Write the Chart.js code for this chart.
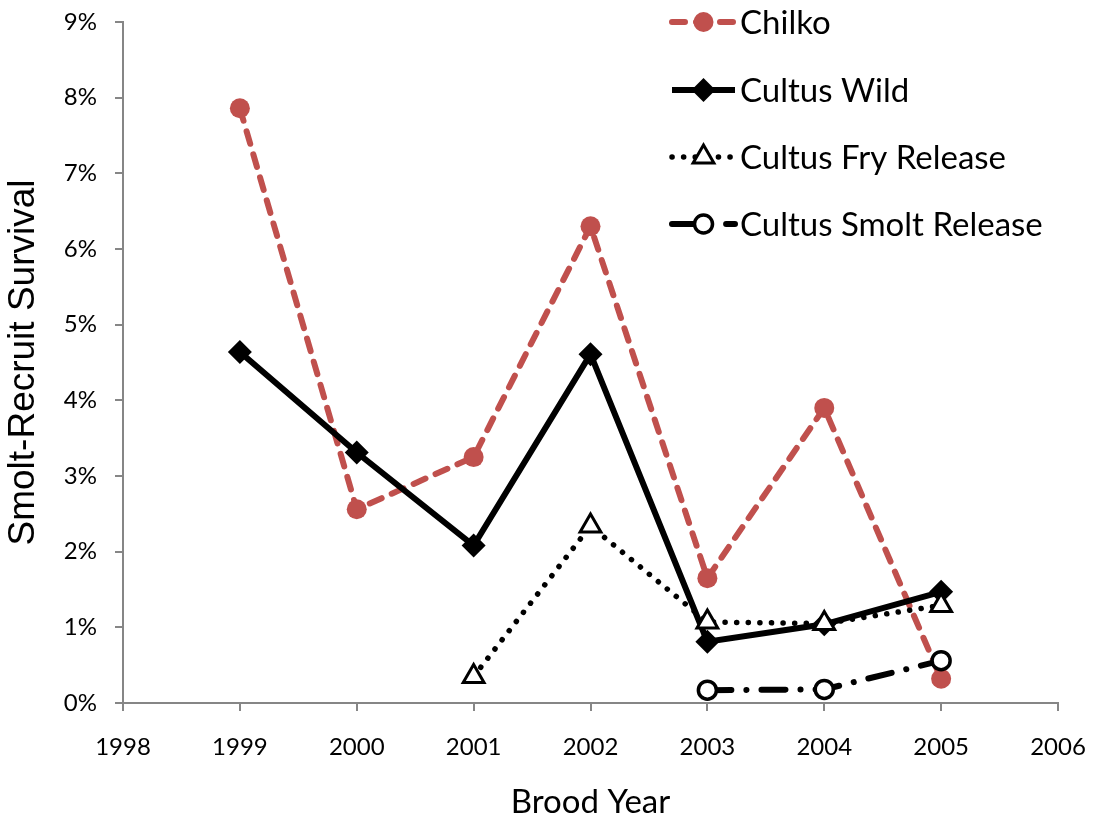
<!DOCTYPE html>
<html>
<head>
<meta charset="utf-8">
<script src="https://cdn.jsdelivr.net/npm/chart.js@4/dist/chart.umd.min.js"></script>
<style>
  html, body { margin: 0; padding: 0; background: #fff; }
  #wrap { width: 1094px; height: 822px; position: relative; }
</style>
</head>
<body>
<div id="wrap"><canvas id="c"></canvas></div>
<script>
// ---- Data (survival in %) ----
const broodYears = [1999, 2000, 2001, 2002, 2003, 2004, 2005];
const chilko      = [7.86, 2.56, 3.25, 6.30, 1.65, 3.90, 0.32];
const cultusWild  = [4.64, 3.31, 2.08, 4.61, 0.81, 1.04, 1.47];
const fryYears    = [2001, 2002, 2003, 2004, 2005];
const cultusFry   = [0.35, 2.34, 1.07, 1.05, 1.29];
const smoltYears  = [2003, 2004, 2005];
const cultusSmolt = [0.17, 0.18, 0.56];
const seriesNames = ['Chilko', 'Cultus Wild', 'Cultus Fry Release', 'Cultus Smolt Release'];
const xTickMin = 1998, xTickMax = 2006;
const yTickMin = 0, yTickMax = 9;

const pts = (xs, ys) => xs.map((x, i) => ({ x: x, y: ys[i] }));
const RED = '#C0504D';
const AXIS = '#868686';
const CAL = 'Lato, "Open Sans", sans-serif';

const datasets = [
  {
    label: seriesNames[0], data: pts(broodYears, chilko),
    borderColor: RED, backgroundColor: RED, borderWidth: 6,
    borderDash: [13, 11], borderCapStyle: 'round',
    pointStyle: 'circle', pointRadius: 10, pointBackgroundColor: RED,
    pointBorderColor: RED, pointBorderWidth: 0, order: 4
  },
  {
    label: seriesNames[1], data: pts(broodYears, cultusWild),
    borderColor: '#000', backgroundColor: '#000', borderWidth: 6,
    pointStyle: 'rectRot', pointRadius: 12, pointBackgroundColor: '#000',
    pointBorderColor: '#000', pointBorderWidth: 0, order: 3
  },
  {
    label: seriesNames[2], data: pts(fryYears, cultusFry),
    borderColor: '#000', backgroundColor: '#fff', borderWidth: 5.5,
    borderDash: [0.1, 11.5], borderCapStyle: 'round',
    pointStyle: 'triangle', pointRadius: 12, pointBackgroundColor: '#fff',
    pointBorderColor: '#000', pointBorderWidth: 3, order: 2
  },
  {
    label: seriesNames[3], data: pts(smoltYears, cultusSmolt),
    borderColor: '#000', backgroundColor: '#fff', borderWidth: 6,
    borderDash: [24, 15, 0.1, 15], borderCapStyle: 'round',
    pointStyle: 'circle', pointRadius: 9, pointBackgroundColor: '#fff',
    pointBorderColor: '#000', pointBorderWidth: 3.5, order: 1
  }
];

function drawMarker(ctx, ds, x, y) {
  ctx.save();
  ctx.setLineDash([]);
  ctx.fillStyle = ds.pointBackgroundColor;
  ctx.strokeStyle = ds.pointBorderColor;
  ctx.lineWidth = ds.pointBorderWidth;
  const r = ds.pointRadius;
  ctx.beginPath();
  if (ds.pointStyle === 'circle') {
    ctx.arc(x, y, r, 0, Math.PI * 2);
  } else if (ds.pointStyle === 'rectRot') {
    ctx.moveTo(x, y - r); ctx.lineTo(x + r, y); ctx.lineTo(x, y + r); ctx.lineTo(x - r, y); ctx.closePath();
  } else if (ds.pointStyle === 'triangle') {
    const h = r * 1.5, s = r * Math.sqrt(3);
    ctx.moveTo(x, y - r); ctx.lineTo(x + s / 2, y + h - r); ctx.lineTo(x - s / 2, y + h - r); ctx.closePath();
  }
  ctx.fill();
  if (ds.pointBorderWidth > 0) ctx.stroke();
  ctx.restore();
}

const legendPlugin = {
  id: 'customLegend',
  afterDraw(chart) {
    const ctx = chart.ctx;
    const x0 = 672, x1 = 735, tx = 740;
    const ys = [22, 90, 157, 224];
    chart.data.datasets.forEach((ds, i) => {
      const y = ys[i];
      ctx.save();
      ctx.strokeStyle = ds.borderColor;
      ctx.lineWidth = ds.borderWidth;
      ctx.lineCap = ds.borderCapStyle || 'butt';
      ctx.setLineDash(ds.borderDash || []);
      ctx.beginPath(); ctx.moveTo(x0, y); ctx.lineTo(x1, y); ctx.stroke();
      ctx.restore();
      drawMarker(ctx, ds, (x0 + x1) / 2, y);
      ctx.save();
      ctx.fillStyle = '#000';
      ctx.font = '33px ' + CAL;
      ctx.textBaseline = 'middle';
      ctx.textAlign = 'left';
      ctx.fillText(ds.label, tx, y + 1);
      ctx.restore();
    });
  }
};

new Chart(document.getElementById('c'), {
  type: 'line',
  data: { datasets: datasets },
  plugins: [legendPlugin],
  options: {
    responsive: true,
    maintainAspectRatio: false,
    animation: false,
    clip: false,
    layout: { padding: { left: 0, right: 36, top: 22, bottom: 0 } },
    plugins: { legend: { display: false }, tooltip: { enabled: false } },
    scales: {
      x: {
        type: 'linear', min: xTickMin, max: xTickMax,
        ticks: { stepSize: 1, color: '#000', font: { family: CAL, size: 24 }, padding: 22,
                 callback: v => String(v) },
        grid: { drawOnChartArea: false, drawTicks: true, tickLength: 8, color: AXIS, lineWidth: 2 },
        border: { color: AXIS, width: 2 },
        title: { display: true, text: 'Brood Year', color: '#000',
                 font: { family: CAL, size: 33 }, padding: { top: 14, bottom: 0 } },
        afterFit: s => { s.height = 119; s.paddingLeft = 0; s.paddingRight = 0; }
      },
      y: {
        type: 'linear', min: yTickMin, max: yTickMax,
        ticks: { stepSize: 1, color: '#000', font: { family: CAL, size: 24 }, padding: 18,
                 callback: v => v + '%' },
        grid: { drawOnChartArea: false, drawTicks: true, tickLength: 8, color: AXIS, lineWidth: 2 },
        border: { color: AXIS, width: 2 },
        title: { display: true, text: 'Smolt-Recruit Survival', color: '#000',
                 font: { family: '"Liberation Sans", Arial, sans-serif', size: 37 }, padding: { top: 2, bottom: 0 } },
        afterFit: s => { s.width = 123; s.paddingTop = 0; s.paddingBottom = 0; }
      }
    }
  }
});
</script>
</body>
</html>
